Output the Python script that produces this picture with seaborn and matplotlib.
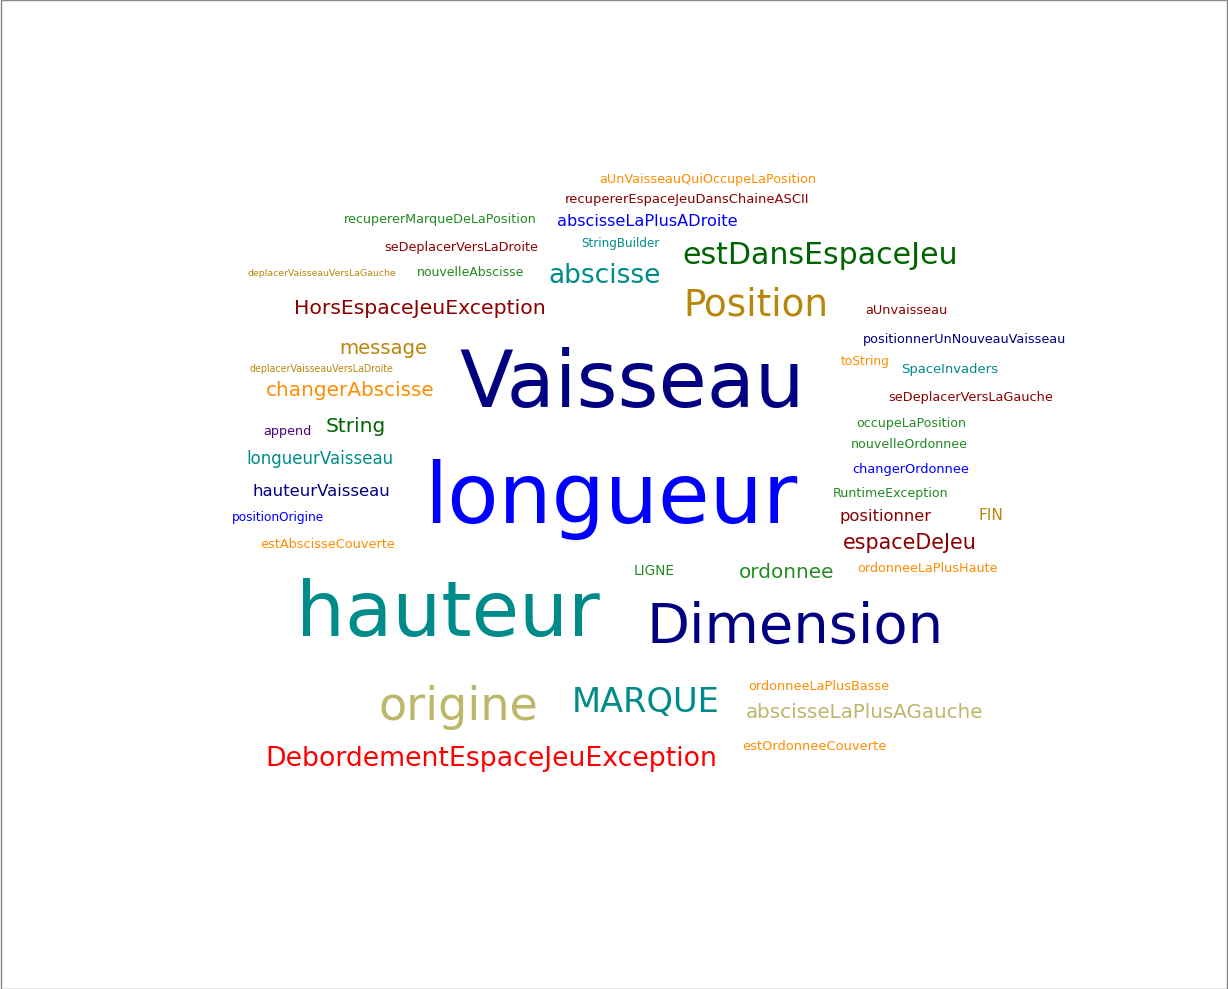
import matplotlib
matplotlib.use("Agg")
import matplotlib.pyplot as plt
import seaborn as sns

sns.set_theme(style="white")
plt.rcParams['font.family'] = ['DejaVu Sans']

# words of the cloud and their colours
words = [
    "aUnVaisseauQuiOccupeLaPosition", "recupererEspaceJeuDansChaineASCII",
    "recupererMarqueDeLaPosition", "abscisseLaPlusADroite", "seDeplacerVersLaDroite",
    "StringBuilder", "estDansEspaceJeu", "deplacerVaisseauVersLaGauche",
    "nouvelleAbscisse", "abscisse", "Position", "HorsEspaceJeuException",
    "aUnvaisseau", "positionnerUnNouveauVaisseau", "message", "Vaisseau",
    "deplacerVaisseauVersLaDroite", "toString", "SpaceInvaders", "changerAbscisse",
    "seDeplacerVersLaGauche", "String", "append", "occupeLaPosition",
    "nouvelleOrdonnee", "longueurVaisseau", "changerOrdonnee", "longueur",
    "hauteurVaisseau", "RuntimeException", "positionOrigine", "positionner", "FIN",
    "estAbscisseCouverte", "espaceDeJeu", "LIGNE", "ordonnee", "ordonneeLaPlusHaute",
    "hauteur", "Dimension", "ordonneeLaPlusBasse", "origine", "MARQUE",
    "abscisseLaPlusAGauche", "estOrdonneeCouverte", "DebordementEspaceJeuException",
]
colors = [
    "#ff8c00", "#8b0000", "#228b22", "#0000ff", "#8b0000",
    "#008b8b", "#006400", "#b8860b",
    "#228b22", "#008b8b", "#b8860b", "#8b0000",
    "#8b0000", "#000080", "#b8860b", "#000080",
    "#b8860b", "#ff8c00", "#008b8b", "#ff8c00",
    "#8b0000", "#006400", "#4b0082", "#228b22",
    "#228b22", "#008b8b", "#0000ff", "#0000ff",
    "#000080", "#228b22", "#0000ff", "#8b0000", "#b8860b",
    "#ff8c00", "#8b0000", "#228b22", "#228b22", "#ff8c00",
    "#008b8b", "#000080", "#ff8c00", "#bdb76b", "#008b8b",
    "#bdb76b", "#ff8c00", "#ff0000",
]

# layout in image pixels: left, right, vertical centre
left = [600, 565, 344, 557, 385, 581, 683, 247, 417, 549, 683, 295, 865, 864, 339, 460,
        249, 841, 901, 266, 889, 326, 263, 857, 851, 246, 853, 424, 253, 833, 232, 840,
        978, 261, 843, 634, 739, 857, 296, 647, 749, 378, 572, 746, 743, 265]
right = [816, 809, 536, 738, 538, 659, 958, 397, 524, 661, 828, 545, 947, 1066, 427, 805,
         393, 890, 998, 434, 1053, 386, 311, 966, 967, 393, 969, 797, 390, 948, 324, 932,
         1003, 395, 976, 675, 834, 997, 600, 943, 889, 538, 720, 983, 886, 718]
ycen = [179, 200, 219, 222, 247, 244, 256, 273, 272, 276, 305, 309, 311, 339, 348, 385,
        369, 362, 370, 390, 398, 426, 431, 423, 445, 459, 470, 500, 492, 493, 517, 516,
        515, 545, 543, 571, 573, 569, 615, 628, 686, 708, 703, 712, 746, 759]

W, H = 1228, 989
fig = plt.figure(figsize=(W / 100, H / 100), dpi=100)
ax = fig.add_axes([0, 0, 1, 1])
ax.set_xlim(0, W)
ax.set_ylim(H, 0)
ax.axis("off")
fig.patch.set_facecolor("white")
fig.add_artist(plt.Rectangle((0.0005, 0.0005), 0.999, 0.999, transform=fig.transFigure,
                             fill=False, edgecolor="#888888", linewidth=1))

renderer = fig.canvas.get_renderer()
for w, c, l, r, y in zip(words, colors, left, right, ycen):
    t = ax.text((l + r) / 2, y, w, color=c, fontsize=10, ha="center", va="center")
    width = t.get_window_extent(renderer).width
    t.set_fontsize(10 * (r - l) / width)

fig.savefig("out.png", dpi=100)
